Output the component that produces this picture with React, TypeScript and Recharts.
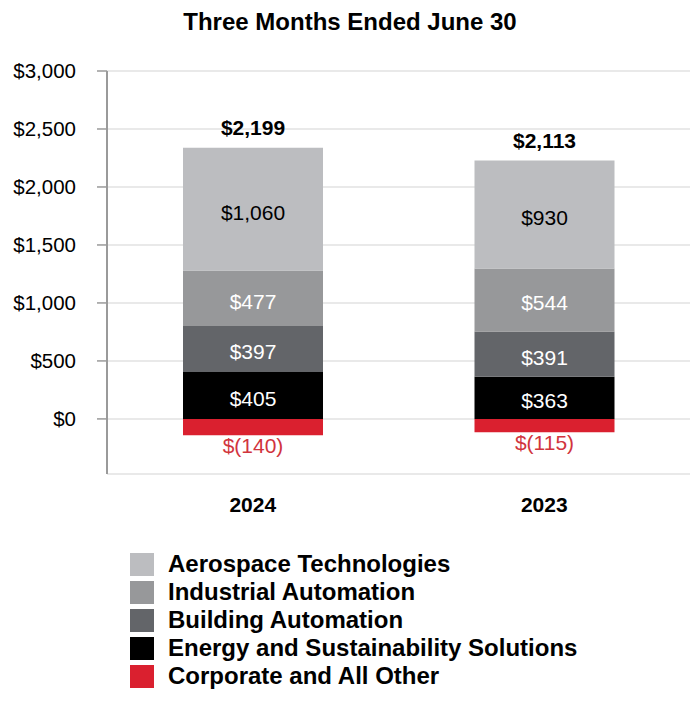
import React from 'react';
import { BarChart, Bar, XAxis, YAxis, CartesianGrid, LabelList } from 'recharts';

const categories = ['2024', '2023'];
const aerospace = [1060, 930];
const industrial = [477, 544];
const building = [397, 391];
const energy = [405, 363];
const corporate = [-140, -115];
const totals = [2199, 2113];
const yTicks = [0, 500, 1000, 1500, 2000, 2500, 3000];

const seriesNames = [
  'Aerospace Technologies',
  'Industrial Automation',
  'Building Automation',
  'Energy and Sustainability Solutions',
  'Corporate and All Other',
];
const colors = ['#bcbdc0', '#97989a', '#636569', '#000000', '#da202f'];

const data = categories.map((c, i) => ({
  year: c,
  aerospace: aerospace[i],
  industrial: industrial[i],
  building: building[i],
  energy: energy[i],
  corporate: corporate[i],
}));

const fmt = (v: number) => {
  const s = Math.abs(v).toLocaleString('en-US');
  return v < 0 ? `$(${s})` : `$${s}`;
};

const makeInner = (fill: string) => (props: any) => {
  const { x, y, width, height, value } = props;
  return (
    <text
      x={Number(x) + Number(width) / 2}
      y={Number(y) + Number(height) / 2 + 3}
      textAnchor="middle"
      dominantBaseline="central"
      fontSize={21}
      fill={fill}
    >
      {fmt(Number(value))}
    </text>
  );
};
const WhiteLabel = makeInner('#fff');
const BlackLabel = makeInner('#000');

const TotalLabel = (props: any) => {
  const { x, y, width, index } = props;
  return (
    <text
      x={Number(x) + Number(width) / 2}
      y={Number(y) - 20}
      textAnchor="middle"
      dominantBaseline="central"
      fontSize={21}
      fontWeight="bold"
      fill="#000"
    >
      {fmt(totals[index])}
    </text>
  );
};

const NegLabel = (props: any) => {
  const { x, y, width, height, index } = props;
  const bottom = Math.max(Number(y), Number(y) + Number(height));
  return (
    <text
      x={Number(x) + Number(width) / 2}
      y={bottom + 10}
      textAnchor="middle"
      dominantBaseline="central"
      fontSize={21}
      fill="#d1343d"
    >
      {fmt(corporate[index])}
    </text>
  );
};

export default function App() {
  return (
    <div
      style={{
        position: 'absolute',
        left: 0,
        top: 0,
        width: 700,
        height: 710,
        background: '#fff',
        fontFamily: '"Liberation Sans", Arial, sans-serif',
      }}
    >
      <div
        style={{
          position: 'absolute',
          left: 0,
          width: 700,
          top: 8,
          textAlign: 'center',
          fontSize: 24,
          fontWeight: 'bold',
          lineHeight: '28px',
          color: '#000',
        }}
      >
        Three Months Ended June 30
      </div>
      <BarChart
        width={700}
        height={710}
        data={data}
        stackOffset="sign"
        margin={{ top: 71, right: 10, left: 0, bottom: 196 }}
        barSize={140}
      >
        <CartesianGrid vertical={false} stroke="#e2e2e2" strokeWidth={1.5} />
        <XAxis
          dataKey="year"
          axisLine={false}
          tickLine={false}
          tickSize={0}
          tickMargin={23}
          height={40}
          tick={{ fontSize: 21, fontWeight: 'bold', fill: '#000' }}
        />
        <YAxis
          width={107}
          domain={[-475, 3000]}
          ticks={yTicks}
          tickFormatter={fmt}
          axisLine={{ stroke: '#9a9a9a', strokeWidth: 2 }}
          tickLine={{ stroke: '#9a9a9a', strokeWidth: 1.5 }}
          tickSize={10}
          tickMargin={21}
          tick={{ fontSize: 20.5, fill: '#000' }}
          allowDataOverflow
        />
        <Bar dataKey="energy" stackId="a" fill={colors[3]} isAnimationActive={false}>
          <LabelList dataKey="energy" content={WhiteLabel} />
        </Bar>
        <Bar dataKey="building" stackId="a" fill={colors[2]} isAnimationActive={false}>
          <LabelList dataKey="building" content={WhiteLabel} />
        </Bar>
        <Bar dataKey="industrial" stackId="a" fill={colors[1]} isAnimationActive={false}>
          <LabelList dataKey="industrial" content={WhiteLabel} />
        </Bar>
        <Bar dataKey="aerospace" stackId="a" fill={colors[0]} isAnimationActive={false}>
          <LabelList dataKey="aerospace" content={BlackLabel} />
          <LabelList dataKey="aerospace" content={TotalLabel} />
        </Bar>
        <Bar dataKey="corporate" stackId="a" fill={colors[4]} isAnimationActive={false}>
          <LabelList dataKey="corporate" content={NegLabel} />
        </Bar>
      </BarChart>
      <div style={{ position: 'absolute', left: 130, top: 550 }}>
        {seriesNames.map((n, i) => (
          <div
            key={n}
            style={{ display: 'flex', alignItems: 'center', height: 28 }}
          >
            <div style={{ width: 24, height: 23, background: colors[i], marginRight: 14, flexShrink: 0 }} />
            <span
              style={{
                fontSize: 24,
                fontWeight: 'bold',
                color: '#000',
                whiteSpace: 'nowrap',
                lineHeight: '24px',
              }}
            >
              {n}
            </span>
          </div>
        ))}
      </div>
    </div>
  );
}
